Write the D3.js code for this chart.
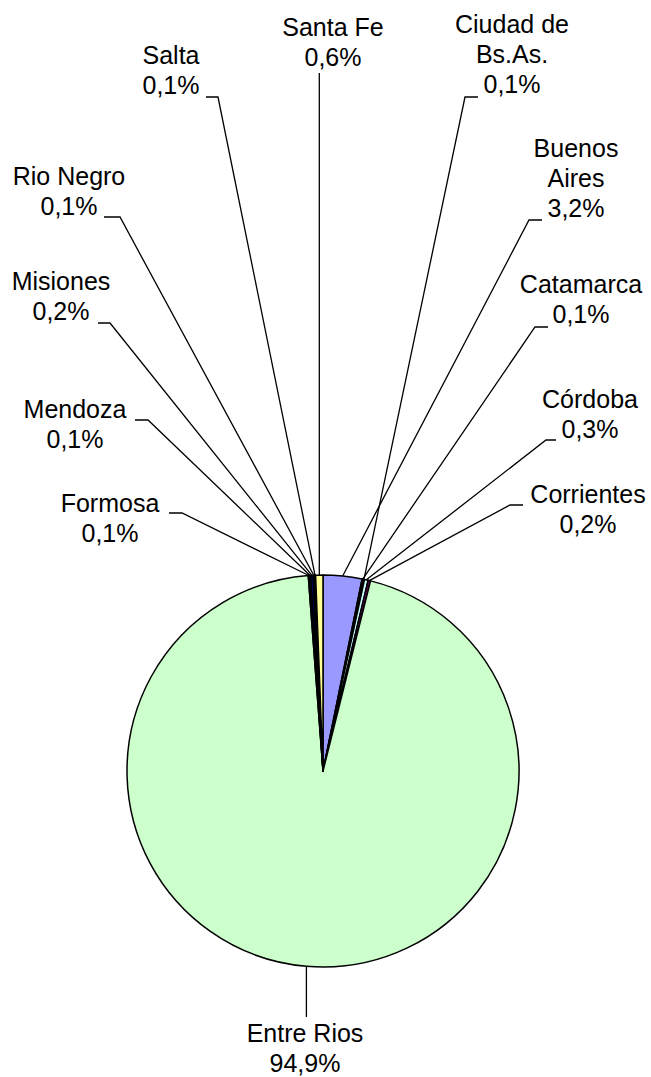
<!DOCTYPE html>
<html>
<head>
<meta charset="utf-8">
<script src="https://cdn.jsdelivr.net/npm/d3@7"></script>
<style>
  body { margin: 0; background: #fff; }
  text { font-family: "Liberation Sans", Arial, sans-serif; font-size: 25px; fill: #000; }
</style>
</head>
<body>
<svg width="651" height="1077"></svg>
<script>
// provinces, in the order the slices run clockwise from 12 o'clock
var provinces = ["Buenos Aires", "Catamarca", "Ciudad de Bs.As.", "Córdoba", "Corrientes",
  "Entre Rios", "Formosa", "Mendoza", "Misiones", "Rio Negro", "Salta", "Santa Fe"];
var shares = [3.2, 0.1, 0.1, 0.3, 0.2, 94.9, 0.1, 0.1, 0.2, 0.1, 0.1, 0.6];
var shareLabels = ["3,2%", "0,1%", "0,1%", "0,3%", "0,2%", "94,9%", "0,1%", "0,1%", "0,2%", "0,1%", "0,1%", "0,6%"];
var nameLines = [["Buenos", "Aires"], ["Catamarca"], ["Ciudad de", "Bs.As."], ["Córdoba"], ["Corrientes"],
  ["Entre Rios"], ["Formosa"], ["Mendoza"], ["Misiones"], ["Rio Negro"], ["Salta"], ["Santa Fe"]];
var fills = ["#9999FF", "#993366", "#FFFFCC", "#CCFFFF", "#660066", "#CCFFCC",
  "#0066CC", "#CCCCFF", "#000080", "#FF00FF", "#FFFF00", "#FFFF99"];

// label placement (dragged by hand in the original chart)
// cx = text centre, y = first baseline, ly = leader height, lx = [text side, bend]
var labelLayout = [
  {cx: 576, y: 157, ly: 220, lx: [542, 529]},
  {cx: 581, y: 293, ly: 327, lx: [548, 535]},
  {cx: 512, y: 33,  ly: 97,  lx: [478, 465]},
  {cx: 590, y: 408, ly: 440, lx: [556, 546]},
  {cx: 588, y: 503, ly: 505, lx: [523, 510]},
  {cx: 305, y: 1042, ly: 1017, lx: null},
  {cx: 110, y: 512, ly: 513, lx: [169, 182]},
  {cx: 75,  y: 418, ly: 420, lx: [135, 148]},
  {cx: 61,  y: 290, ly: 323, lx: [98, 110]},
  {cx: 69,  y: 185, ly: 217, lx: [104, 120]},
  {cx: 171, y: 64,  ly: 97,  lx: [206, 218]},
  {cx: 333, y: 36,  ly: 73,  lx: null}
];

var svg = d3.select("svg");
var cx = 323, cy = 771, r = 196, lineH = 30;

var data = provinces.map(function(p, i) {
  return {name: p, value: shares[i], label: shareLabels[i], lines: nameLines[i], fill: fills[i], pos: labelLayout[i]};
});

var pie = d3.pie().sort(null).value(function(d) { return d.value; });
var arc = d3.arc().innerRadius(0).outerRadius(r);
var arcs = pie(data);

var g = svg.append("g").attr("transform", "translate(" + cx + "," + cy + ")");

g.selectAll("path.slice")
  .data(arcs)
  .enter().append("path")
    .attr("class", "slice")
    .attr("d", arc)
    .attr("fill", function(d) { return d.data.fill; })
    .attr("stroke", "#000")
    .attr("stroke-width", 1.5)
    .attr("stroke-linejoin", "round");

// leader lines
function edgePoint(d) {
  var a = (d.startAngle + d.endAngle) / 2;
  return [cx + r * Math.sin(a), cy - r * Math.cos(a)];
}

svg.selectAll("path.leader")
  .data(arcs)
  .enter().append("path")
    .attr("class", "leader")
    .attr("fill", "none")
    .attr("stroke", "#000")
    .attr("stroke-width", 1.3)
    .attr("d", function(d) {
      var p = edgePoint(d), L = d.data.pos;
      if (!L.lx) return d3.line()([[p[0], L.ly], p]);
      return d3.line()([[L.lx[0], L.ly], [L.lx[1], L.ly], p]);
    });

// labels
var labels = svg.selectAll("text.lbl")
  .data(arcs)
  .enter().append("text")
    .attr("class", "lbl")
    .attr("text-anchor", "middle");

labels.each(function(d) {
  var t = d3.select(this), L = d.data.pos;
  var rows = d.data.lines.concat([d.data.label]);
  rows.forEach(function(s, k) {
    t.append("tspan").attr("x", L.cx).attr("y", L.y + k * lineH).text(s);
  });
});
</script>
</body>
</html>
